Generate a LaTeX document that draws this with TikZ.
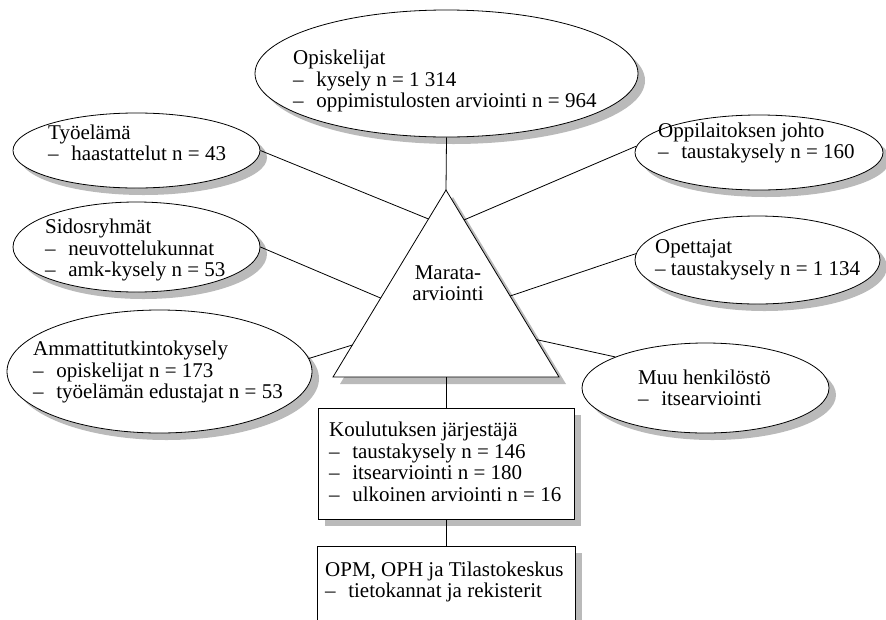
\documentclass[tikz,border=0pt]{standalone}
\usepackage{fontspec}
\setmainfont{Liberation Serif}
\usetikzlibrary{shapes.geometric,shadows,calc}

\tikzset{
    dropsh/.style={drop shadow={shadow xshift=7pt,shadow yshift=-7pt,fill=black!27,opacity=1}},
    oval/.style={ellipse,draw,fill=white,line width=0.8pt,inner sep=0pt,dropsh},
    srcbox/.style={rectangle,draw,fill=white,line width=0.8pt,inner sep=0pt,dropsh},
    txt/.style={align=left,anchor=west,inner sep=0pt,font=\fontsize{21}{21.5}\selectfont},
    link/.style={line width=0.8pt}
}
\newcommand{\itm}{–\hspace{0.6em}}

\begin{document}
\begin{tikzpicture}[x=1pt,y=-1pt]

    % Fix the page to the size of the picture
    \useasboundingbox (0,0) rectangle (886,619);
    \clip (0,0) rectangle (886,619);

    % The source ellipses round the triangle
    \node[oval,minimum width=383pt,minimum height=127pt] (opis) at (446.5,73.5) {};
    \node[oval,minimum width=247pt,minimum height=75pt] (tyo) at (136.5,150.5) {};
    \node[oval,minimum width=247pt,minimum height=90pt] (sid) at (136.5,247) {};
    \node[oval,minimum width=305pt,minimum height=123pt] (amm) at (159.5,371.5) {};
    \node[oval,minimum width=248pt,minimum height=75pt] (opp) at (759,152.5) {};
    \node[oval,minimum width=245pt,minimum height=88pt] (ope) at (757.5,260) {};
    \node[oval,minimum width=247pt,minimum height=90pt] (muu) at (705.5,388) {};

    % The two boxes below the triangle
    \node[srcbox,minimum width=256pt,minimum height=111pt] (kou) at (446,463.5) {};
    \node[srcbox,minimum width=258pt,minimum height=104pt] (opm) at (446,598) {};

    % Texts of the ellipses and boxes
    \node[txt] (opisT) at (293,81) {Opiskelijat\\\itm kysely n = 1 314\\\itm oppimistulosten arviointi n = 964};
    \node[txt] (tyoT) at (48,143) {Työelämä\\\itm haastattelut n = 43};
    \node[txt] (sidT) at (45,250) {Sidosryhmät\\\itm neuvottelukunnat\\\itm amk-kysely n = 53};
    \node[txt] (ammT) at (33,372) {Ammattitutkintokysely\\\itm opiskelijat n = 173\\\itm työelämän edustajat n = 53};
    \node[txt] (oppT) at (658,143) {Oppilaitoksen johto\\\itm taustakysely n = 160};
    \node[txt] (opeT) at (655,260) {Opettajat\\– taustakysely n = 1 134};
    \node[txt] (muuT) at (638,388) {Muu henkilöstö\\\itm itsearviointi};
    \node[txt] (kouT) at (329,462) {Koulutuksen järjestäjä\\\itm taustakysely n = 146\\\itm itsearviointi n = 180\\\itm ulkoinen arviointi n = 16};
    \node[txt] (opmT) at (325,582) {OPM, OPH ja Tilastokeskus\\\itm tietokannat ja rekisterit};

    % The triangle in the middle, with its shadow
    \coordinate (apex) at (446,190);
    \coordinate (lc) at (333,377);
    \coordinate (rc) at (559,377);
    \coordinate (base) at ($(lc)!0.5!(rc)$);
    \fill[black!27] ($(apex)+(7,7)$) -- ($(lc)+(7,7)$) -- ($(rc)+(7,7)$) -- cycle;
    \draw[link,fill=white] (apex) -- (lc) -- (rc) -- cycle;
    \node[txt,anchor=center,align=center] (mara) at (448,283) {Marata-\\arviointi};

    % Connectors from the sources to the triangle
    \draw[link] (opis.south) -- (apex);
    \draw[link] (tyo.east) -- ($(apex)!0.155!(lc)$);
    \draw[link] (sid.east) -- ($(apex)!0.578!(lc)$);
    \draw[link] (amm.5) -- ($(apex)!0.829!(lc)$);
    \draw[link] (opp.177) -- ($(apex)!0.16!(rc)$);
    \draw[link] (ope.177) -- ($(apex)!0.567!(rc)$);
    \draw[link] (muu.161) -- ($(apex)!0.80!(rc)$);
    \draw[link] (kou.north) -- (base);
    \draw[link] (kou.south) -- (opm.north);

\end{tikzpicture}
\end{document}
